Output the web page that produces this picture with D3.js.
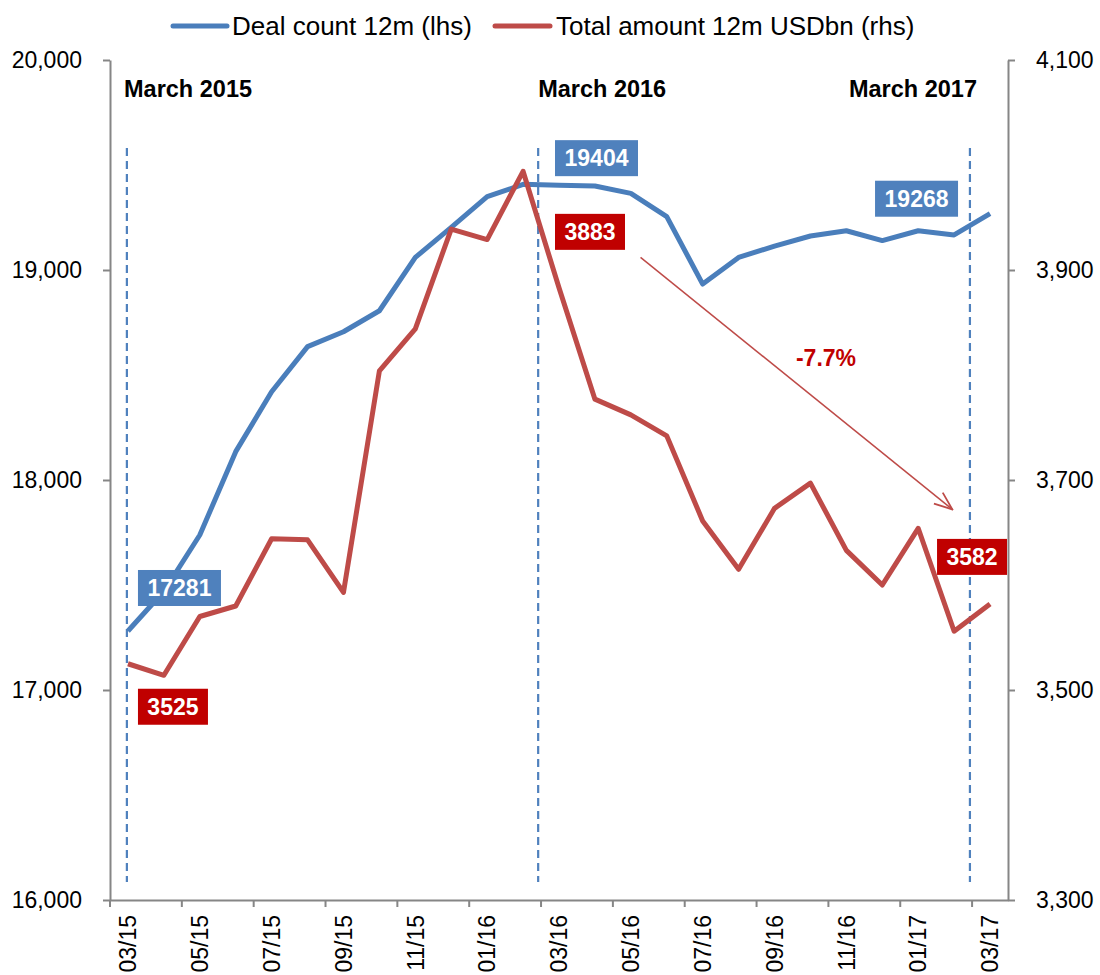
<!DOCTYPE html>
<html lang="en">
<head>
<meta charset="UTF-8" />
<title>Deal count vs total amount</title>
<script src="https://d3js.org/d3.v7.min.js"></script>
<style>
  body { margin: 0; background: #fff; }
  text { font-family: "Liberation Sans", Arial, sans-serif; }
</style>
</head>
<body>
<script>

// data
var months = ["03/15","04/15","05/15","06/15","07/15","08/15","09/15","10/15","11/15","12/15",
              "01/16","02/16","03/16","04/16","05/16","06/16","07/16","08/16","09/16","10/16",
              "11/16","12/16","01/17","02/17","03/17"];

var dealCount = [17281, 17470, 17738, 18135, 18420, 18635, 18706, 18806, 19060, 19203,
                 19349, 19408, 19404, 19400, 19365, 19254, 18933, 19060, 19114, 19162,
                 19187, 19140, 19187, 19167, 19268];

var totalAmount = [3525, 3514, 3570, 3580, 3644, 3643, 3593, 3804, 3844, 3939,
                   3929, 3994, 3883, 3777, 3762, 3742, 3661, 3615, 3673, 3697,
                   3633, 3600, 3654, 3556, 3582];

var leftTicks = [16000, 17000, 18000, 19000, 20000];
var rightTicks = [3300, 3500, 3700, 3900, 4100];

var seriesNames = ["Deal count 12m (lhs)", "Total amount 12m USDbn (rhs)"];

// annotations
var periodLabels = ["March 2015", "March 2016", "March 2017"];
var periodLines = [-0.03, 11.42, 23.44];   // fractional month index
var changeLabel = "-7.7%";

var W = 1100, H = 975;
var margin = {top: 60, right: 92, bottom: 75, left: 110};

var svg = d3.select("body").append("svg")
  .attr("width", W)
  .attr("height", H);

var x = d3.scaleBand()
  .domain(months)
  .range([margin.left, W - margin.right])
  .padding(0);

var bw = x.bandwidth();
function xc(i) { return x(months[0]) + bw * (i + 0.5); }

var yL = d3.scaleLinear().domain([16000, 20000]).range([H - margin.bottom, margin.top]);
var yR = d3.scaleLinear().domain([3300, 4100]).range([H - margin.bottom, margin.top]);

var axisColor = "#868686";
var blue = "#4A7EBB", red = "#BE4B48";
var blueBox = "#4F81BD", redBox = "#C00000";

// left axis
var gL = svg.append("g")
  .attr("transform", "translate(" + margin.left + ",0)")
  .call(d3.axisLeft(yL).tickValues(leftTicks).tickSize(7).tickSizeOuter(0)
    .tickPadding(21).tickFormat(d3.format(",")));

// right axis
var gR = svg.append("g")
  .attr("transform", "translate(" + (W - margin.right) + ",0)")
  .call(d3.axisRight(yR).tickValues(rightTicks).tickSize(7).tickSizeOuter(0)
    .tickPadding(21).tickFormat(d3.format(",")));

// bottom axis: labels at every 2nd month, ticks on the category boundaries
var evenMonths = months.filter(function(d, i) { return i % 2 == 0; });
var gB = svg.append("g")
  .attr("transform", "translate(0," + (H - margin.bottom) + ")")
  .call(d3.axisBottom(x).tickValues(evenMonths).tickSize(0).tickSizeOuter(0));

gB.selectAll(".tick text")
  .attr("transform", "rotate(-90)")
  .attr("text-anchor", "end")
  .attr("x", -15)
  .attr("y", 0)
  .attr("dy", "0.36em");

gB.selectAll(".tickmark")
  .data(evenMonths)
  .enter().append("line")
  .attr("class", "tickmark")
  .attr("x1", function(d) { return x(d); })
  .attr("x2", function(d) { return x(d); })
  .attr("y1", 0)
  .attr("y2", 7)
  .attr("stroke", axisColor)
  .attr("stroke-width", 2);

[gL, gR, gB].forEach(function(g) {
  g.selectAll("path.domain").attr("stroke", axisColor).attr("stroke-width", 2);
  g.selectAll(".tick line").attr("stroke", axisColor).attr("stroke-width", 2);
  g.selectAll(".tick text").attr("fill", "#000").attr("font-size", "23px")
    .attr("font-family", "Liberation Sans, Arial, sans-serif");
});

// dashed period lines
svg.selectAll(".period")
  .data(periodLines)
  .enter().append("line")
  .attr("x1", function(d) { return xc(d); })
  .attr("x2", function(d) { return xc(d); })
  .attr("y1", 148)
  .attr("y2", 882)
  .attr("stroke", blueBox)
  .attr("stroke-width", 2.2)
  .attr("stroke-dasharray", "8,5");

// period labels
svg.append("text").attr("x", 124).attr("y", 97).text(periodLabels[0]);
svg.append("text").attr("x", xc(periodLines[1])).attr("y", 97).text(periodLabels[1]);
svg.append("text").attr("x", 977).attr("y", 97).attr("text-anchor", "end").text(periodLabels[2]);
svg.selectAll("text:not(.tick text)")
  .attr("font-weight", "bold").attr("font-size", "23.5px");

// lines
var lineL = d3.line()
  .x(function(d, i) { return xc(i); })
  .y(function(d) { return yL(d); });
var lineR = d3.line()
  .x(function(d, i) { return xc(i); })
  .y(function(d) { return yR(d); });

svg.append("path")
  .datum(dealCount)
  .attr("d", lineL)
  .attr("fill", "none")
  .attr("stroke", blue)
  .attr("stroke-width", 5)
  .attr("stroke-linejoin", "round");

svg.append("path")
  .datum(totalAmount)
  .attr("d", lineR)
  .attr("fill", "none")
  .attr("stroke", red)
  .attr("stroke-width", 5)
  .attr("stroke-linejoin", "round");

// trend arrow
svg.append("defs").append("marker")
  .attr("id", "arrow")
  .attr("viewBox", "0 0 20 20")
  .attr("refX", 19).attr("refY", 10)
  .attr("markerWidth", 20).attr("markerHeight", 20)
  .attr("markerUnits", "userSpaceOnUse")
  .attr("orient", "auto")
  .append("path")
  .attr("d", "M1,3 L19,10 L1,17")
  .attr("fill", "none")
  .attr("stroke", red)
  .attr("stroke-width", 1.8);

svg.append("line")
  .attr("x1", xc(14.27)).attr("y1", yR(3912))
  .attr("x2", xc(22.95)).attr("y2", yR(3672))
  .attr("stroke", red)
  .attr("stroke-width", 1.5)
  .attr("marker-end", "url(#arrow)");

svg.append("text")
  .attr("x", 826).attr("y", 366)
  .attr("text-anchor", "middle")
  .attr("font-weight", "bold")
  .attr("font-size", "23px")
  .attr("fill", redBox)
  .text(changeLabel);

// value boxes: series, index, box offset from the point
var boxes = [
  {s: "L", i: 0,  dx: 10,   dy: -43, c: blueBox},
  {s: "R", i: 0,  dx: 10,   dy: 43,  c: redBox},
  {s: "L", i: 12, dx: -4,   dy: -27, c: blueBox},
  {s: "R", i: 12, dx: -4,   dy: -56, c: redBox},
  {s: "L", i: 24, dx: -115, dy: -15, c: blueBox},
  {s: "R", i: 24, dx: -53,  dy: -47, c: redBox}
];

boxes.forEach(function(b) {
  var v = b.s == "L" ? dealCount[b.i] : totalAmount[b.i];
  var py = b.s == "L" ? yL(v) : yR(v);
  var label = String(v);
  var w = label.length == 5 ? 83 : 70;
  var g = svg.append("g")
    .attr("transform", "translate(" + (xc(b.i) + b.dx) + "," + (py + b.dy) + ")");
  g.append("rect")
    .attr("x", 0).attr("y", -18)
    .attr("width", w).attr("height", 36)
    .attr("fill", b.c);
  g.append("text")
    .attr("x", w / 2).attr("y", 0)
    .attr("dy", "0.36em")
    .attr("text-anchor", "middle")
    .attr("font-weight", "bold")
    .attr("font-size", "23px")
    .attr("fill", "#fff")
    .text(label);
});

// legend
var legend = svg.append("g");
var legendItems = [
  {name: seriesNames[0], color: blue, x1: 173, x2: 227, tx: 232},
  {name: seriesNames[1], color: red, x1: 495, x2: 550, tx: 556}
];
legendItems.forEach(function(d) {
  legend.append("line")
    .attr("x1", d.x1).attr("x2", d.x2)
    .attr("y1", 26).attr("y2", 26)
    .attr("stroke", d.color)
    .attr("stroke-width", 5)
    .attr("stroke-linecap", "round");
  legend.append("text")
    .attr("x", d.tx).attr("y", 35)
    .attr("font-size", "26px")
    .attr("fill", "#000")
    .text(d.name);
});

</script>
</body>
</html>
